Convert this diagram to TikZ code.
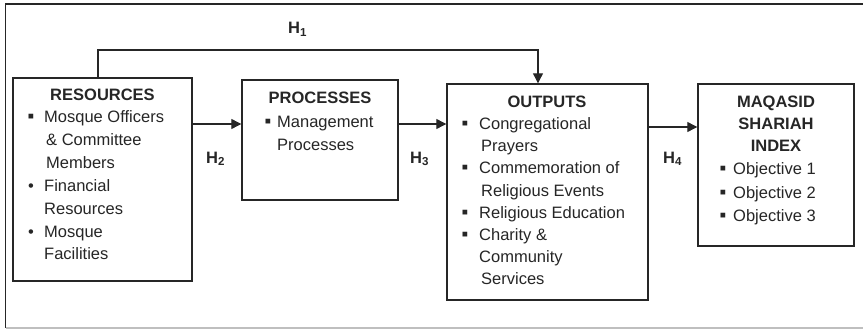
\documentclass[tikz,border=0pt]{standalone}
\usepackage{fontspec}
\setmainfont{Liberation Sans}
\usetikzlibrary{arrows.meta}
\begin{document}
\begin{tikzpicture}[x=1pt,y=-1pt,
 box/.style={draw=black!85, line width=1.4pt, inner sep=0pt, fill=white},
 arr/.style={draw=black!85, line width=1.2pt, -{Triangle[length=10pt,width=10pt]}},
 txt/.style={anchor=base west, inner sep=0pt, font=\fontsize{16.5}{20}\selectfont, text=black!85},
 ttl/.style={anchor=base, inner sep=0pt, font=\fontsize{16.5}{20}\selectfont\bfseries, text=black!85},
 bul/.style={anchor=base, inner sep=0pt, font=\fontsize{16.5}{20}\selectfont, text=black!85},
 sq/.style={anchor=base, inner sep=0pt, font=\fontsize{19}{20}\selectfont, text=black!85},
 hl/.style={anchor=base west, inner sep=0pt, font=\fontsize{16.5}{20}\selectfont\bfseries, text=black!85}]
\useasboundingbox (0,0) rectangle (863,329);
% frame
\draw[black!85, line width=1.5pt] (863,4) -- (5.5,4) -- (5.5,328);
\draw[black!25, line width=1.5pt] (5.5,328) -- (863,328);
% boxes
\node[box, minimum width=179pt, minimum height=203pt] (res) at (102.5,179.5) {};
\node[box, minimum width=156pt, minimum height=120pt] (proc) at (320,140) {};
\node[box, minimum width=201pt, minimum height=216pt] (out) at (547.5,192) {};
\node[box, minimum width=156pt, minimum height=162pt] (maq) at (776,165) {};
% connectors
\coordinate (h1a) at (98,50);
\coordinate (h1b) at (538,50);
\coordinate (ya) at (0,124);
\coordinate (yb) at (0,127);
\draw[arr] (res.north -| h1a) -- (h1a) -- (h1b) -- (out.north -| h1b);
\draw[arr] (res.east |- ya) -- (proc.west |- ya);
\draw[arr] (proc.east |- ya) -- (out.west |- ya);
\draw[arr] (out.east |- yb) -- (maq.west |- yb);
% hypothesis labels
\node[hl] (H1) at (288,34) {H\textsubscript{1}};
\node[hl] (H2) at (206,163) {H\textsubscript{2}};
\node[hl] (H3) at (410,163) {H\textsubscript{3}};
\node[hl] (H4) at (663,163) {H\textsubscript{4}};
% resources text
\node[ttl] (rt) at (102.5,100) {RESOURCES};
\node[sq] (rb1) at (31,123) {▪};
\node[txt] (r1) at (44,123) {Mosque Officers};
\node[txt] (r2) at (46,146) {\& Committee};
\node[txt] (r3) at (46,168) {Members};
\node[bul] (rb2) at (31,191) {•};
\node[txt] (r4) at (44,191) {Financial};
\node[txt] (r5) at (44,214) {Resources};
\node[bul] (rb3) at (31,237) {•};
\node[txt] (r6) at (44,237) {Mosque};
\node[txt] (r7) at (44,259) {Facilities};
% processes text
\node[ttl] (pt) at (320,103) {PROCESSES};
\node[sq] (pb1) at (268,128) {▪};
\node[txt] (p1) at (277,128) {Management};
\node[txt] (p2) at (277,150) {Processes};
% outputs text
\node[ttl] (ot) at (547,107) {OUTPUTS};
\node[sq] (ob1) at (465,129) {▪};
\node[txt] (o1) at (479,129) {Congregational};
\node[txt] (o2) at (481,151) {Prayers};
\node[sq] (ob2) at (465,173) {▪};
\node[txt] (o3) at (479,173) {Commemoration of};
\node[txt] (o4) at (481,196) {Religious Events};
\node[sq] (ob3) at (465,218) {▪};
\node[txt] (o5) at (479,218) {Religious Education};
\node[sq] (ob4) at (465,240) {▪};
\node[txt] (o6) at (479,240) {Charity \&};
\node[txt] (o7) at (479,262) {Community};
\node[txt] (o8) at (481,284) {Services};
% maqasid text
\node[ttl] (mt1) at (776,107) {MAQASID};
\node[ttl] (mt2) at (776,129) {SHARIAH};
\node[ttl] (mt3) at (776,151) {INDEX};
\node[sq] (mb1) at (723,174) {▪};
\node[txt] (m1) at (733,174) {Objective 1};
\node[sq] (mb2) at (723,198) {▪};
\node[txt] (m2) at (733,198) {Objective 2};
\node[sq] (mb3) at (723,221) {▪};
\node[txt] (m3) at (733,221) {Objective 3};
\end{tikzpicture}
\end{document}
